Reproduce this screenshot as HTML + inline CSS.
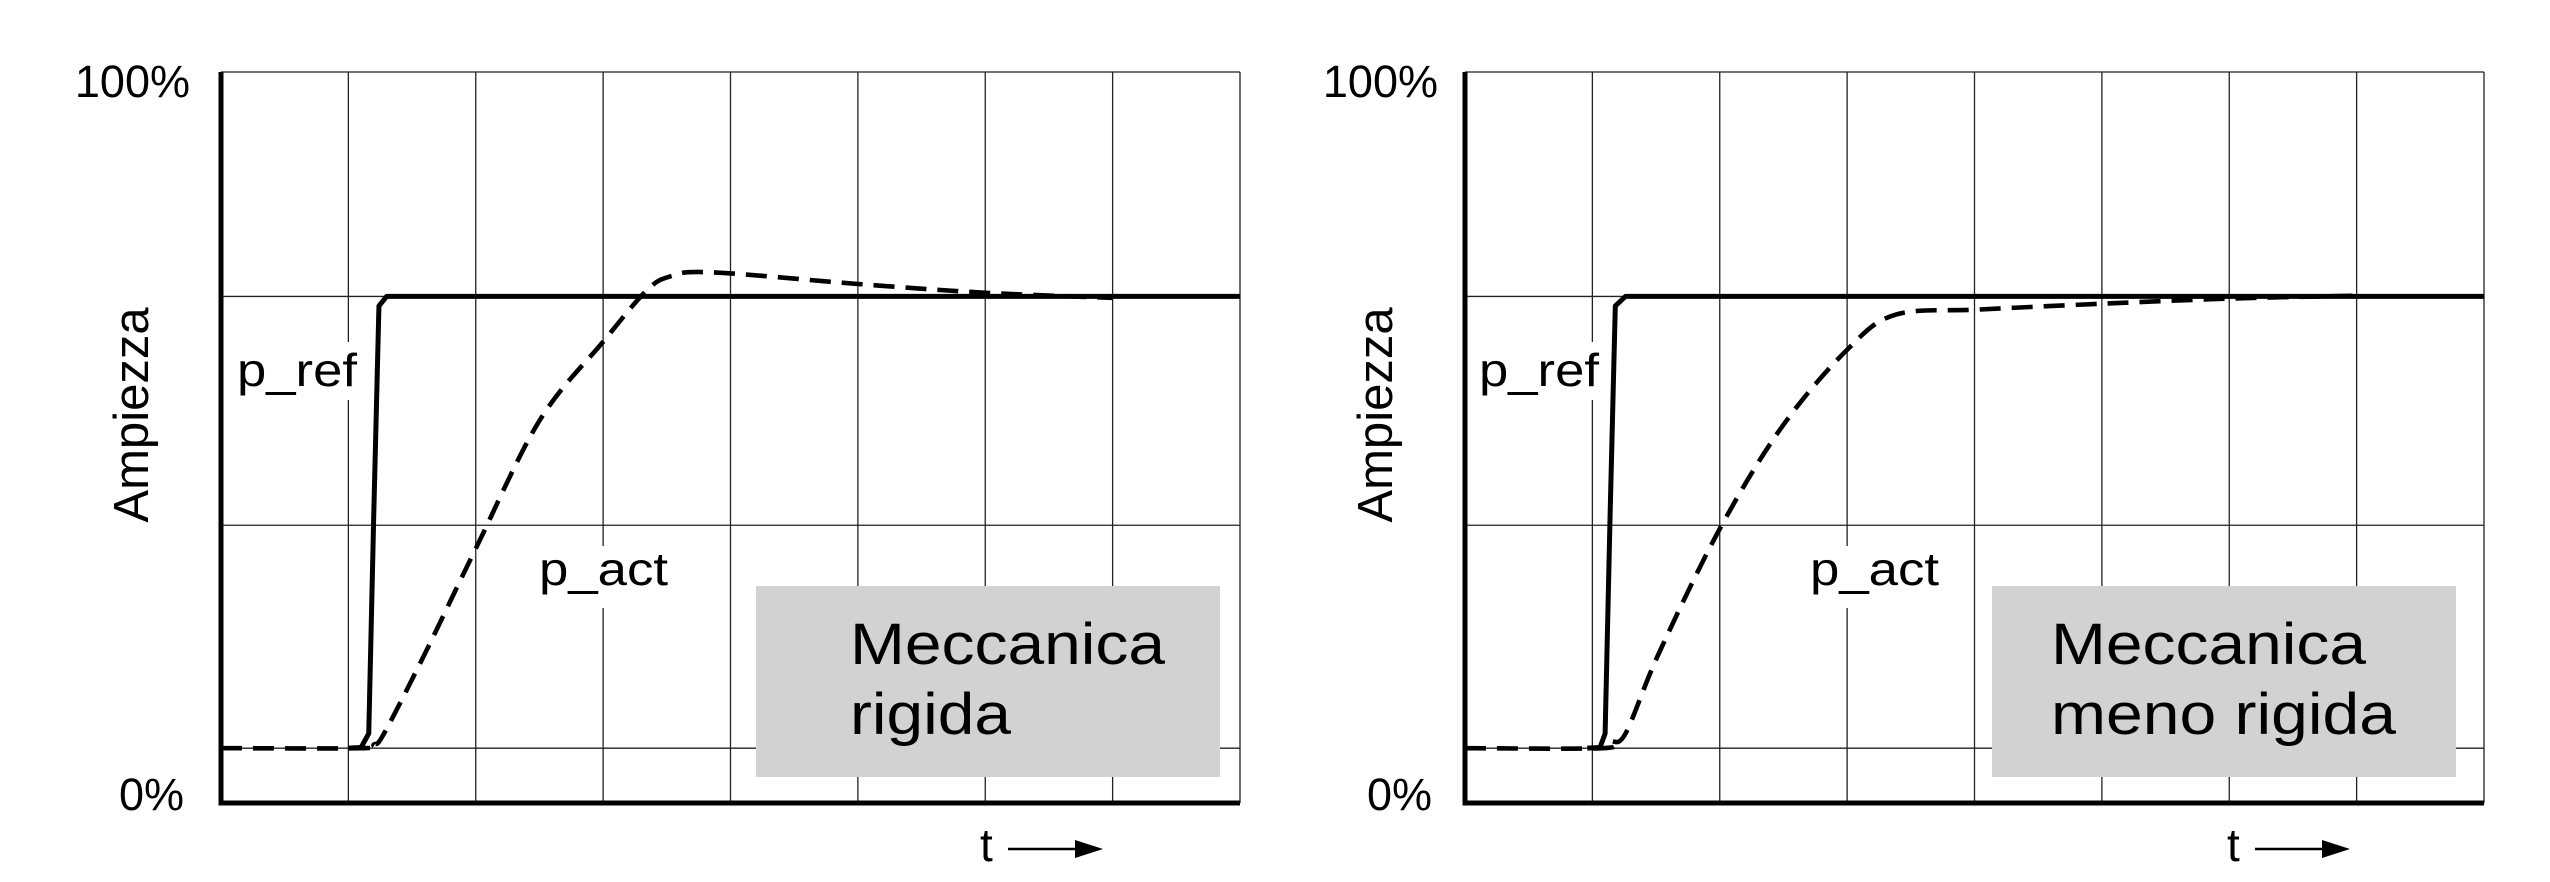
<!DOCTYPE html>
<html><head><meta charset="utf-8"><style>
html,body{margin:0;padding:0;background:#fff;}
svg{display:block;font-family:"Liberation Sans",Arial,sans-serif;}
</style></head><body>
<svg id="chart" width="2550" height="882" viewBox="0 0 2550 882" xmlns="http://www.w3.org/2000/svg">
<rect width="2550" height="882" fill="#fff"/>
<g id="panelL"></g>
<g id="panelR"></g>
</svg>
<script>
// Data (x in grid columns 0..8, y in % of full scale)
const refXL = [1.0, 1.1, 1.16, 1.2, 1.24, 1.3, 8];
const refYL = [7.5, 7.6, 9.5, 40, 68, 69.3, 69.3];
const actXL = [0, 1.12, 1.2, 1.28, 1.6, 2.0, 2.5, 3.0, 3.33, 3.52, 3.85, 5.0, 6.0, 7.0];
const actYL = [7.5, 7.5, 8, 9.5, 20.4, 34.8, 52.3, 63.1, 69.9, 72, 72.6, 71, 69.8, 69.1];
const refXR = [0.96, 1.06, 1.1, 1.14, 1.18, 1.26, 8];
const refYR = [7.5, 7.6, 9.5, 40, 68, 69.3, 69.3];
const actXR = [0, 1.08, 1.14, 1.26, 1.52, 2.0, 2.49, 3.0, 3.38, 4.03, 5.0, 6.0, 7.0];
const actYR = [7.5, 7.5, 8.4, 9.5, 20.4, 37.5, 51.5, 62, 66.8, 67.5, 68.3, 69.0, 69.4];
const gridYLevels = [7.5, 38.0, 69.3, 100];
const yTickLabels = ["0%", "100%"];

const NS = "http://www.w3.org/2000/svg";
function mk(parent, tag, attrs, text) {
  const e = document.createElementNS(NS, tag);
  for (const k in attrs) e.setAttribute(k, attrs[k]);
  if (text !== undefined) e.textContent = text;
  parent.appendChild(e);
  return e;
}
function smoothPath(pts) {
  let d = "M" + pts[0][0] + "," + pts[0][1];
  for (let i = 0; i < pts.length - 1; i++) {
    const p0 = pts[Math.max(0, i - 1)], p1 = pts[i], p2 = pts[i + 1], p3 = pts[Math.min(pts.length - 1, i + 2)];
    const c1x = p1[0] + (p2[0] - p0[0]) / 6, c1y = p1[1] + (p2[1] - p0[1]) / 6;
    const c2x = p2[0] - (p3[0] - p1[0]) / 6, c2y = p2[1] - (p3[1] - p1[1]) / 6;
    d += " C" + c1x + "," + c1y + " " + c2x + "," + c2y + " " + p2[0] + "," + p2[1];
  }
  return d;
}

function panel(g, o) {
  const x0 = o.left, W = 1019, top = 72, bot = 803;
  const sx = v => x0 + v * W / 8;
  const sy = v => bot - v * (bot - top) / 100;
  for (let i = 1; i <= 8; i++) {
    const l = mk(g, "line", {x1: sx(i), x2: sx(i), y1: top, y2: bot, stroke: "#222", "stroke-width": 1.3});
    
    
  }
  gridYLevels.forEach(v => {
    const l = mk(g, "line", {x1: x0, x2: x0 + W, y1: sy(v), y2: sy(v), stroke: "#222", "stroke-width": 1.3});
    
    
  });
  const b1 = mk(g, "rect", {x: o.prefX - 4, y: 342, width: 130, height: 58, fill: "#fff"});
  
  
  const b2 = mk(g, "rect", {x: o.pactX - 4, y: 546, width: 138, height: 62, fill: "#fff"});
  
  
  const box = mk(g, "rect", {x: o.boxX, y: 586, width: 464, height: 191, fill: "#d1d2d4"});
  
  
  const ay = mk(g, "line", {x1: x0, x2: x0, y1: top, y2: bot + 2.5, stroke: "#000", "stroke-width": 5});
  
  
  const ax = mk(g, "line", {x1: x0 - 2.5, x2: x0 + W, y1: bot, y2: bot, stroke: "#000", "stroke-width": 5});
  
  
  const refPts = o.refX.map((v, i) => sx(v) + "," + sy(o.refY[i])).join(" ");
  const ref = mk(g, "polyline", {points: refPts, fill: "none", stroke: "#000", "stroke-width": 5, "stroke-linejoin": "round"});
  
  
  const actPts = o.actX.map((v, i) => [sx(v), sy(o.actY[i])]);
  const act = mk(g, "path", {d: smoothPath(actPts), fill: "none", stroke: "#000", "stroke-width": 4.6, "stroke-dasharray": "21 11"});
  
  
  const t100 = mk(g, "text", {x: o.tickRight, y: 97, "font-size": 45, "text-anchor": "end"}, yTickLabels[1]);
  
  
  const t0 = mk(g, "text", {x: o.tickRight - 6, y: 810, "font-size": 45, "text-anchor": "end"}, yTickLabels[0]);
  
  
  const yt = mk(g, "text", {x: 0, y: 0, "font-size": 49, "text-anchor": "middle", transform: "translate(" + (o.left - 73) + ",415) rotate(-90)"}, "Ampiezza");
  
  
  const pr = mk(g, "text", {x: o.prefX, y: 386, "font-size": 46, textLength: 120, lengthAdjust: "spacingAndGlyphs"}, "p_ref");
  
  
  const pa = mk(g, "text", {x: o.pactX, y: 585, "font-size": 46, textLength: 129, lengthAdjust: "spacingAndGlyphs"}, "p_act");
  
  
  const m1 = mk(g, "text", {x: o.boxTextX, y: 664, "font-size": 58, textLength: 315, lengthAdjust: "spacingAndGlyphs"}, "Meccanica");
  
  
  const m2 = mk(g, "text", {x: o.boxTextX, y: 734, "font-size": 58, textLength: o.line2W, lengthAdjust: "spacingAndGlyphs"}, o.line2);
  
  
  const tt = mk(g, "text", {x: o.tX, y: 861, "font-size": 46}, "t");
  
  
  const al = mk(g, "line", {x1: o.tX + 28, x2: o.tX + 105, y1: 849, y2: 849, stroke: "#000", "stroke-width": 2.5});
  
  
  const ah = mk(g, "polygon", {points: (o.tX + 95) + ",840 " + (o.tX + 123) + ",849 " + (o.tX + 95) + ",858", fill: "#000"});
  
  
}

panel(document.getElementById("panelL"), {left: 221, refX: refXL, refY: refYL, actX: actXL, actY: actYL,
  tickRight: 190, prefX: 237, pactX: 539, boxX: 756, boxTextX: 850, line2: "rigida", line2W: 161, tX: 980});
panel(document.getElementById("panelR"), {left: 1465, refX: refXR, refY: refYR, actX: actXR, actY: actYR,
  tickRight: 1438, prefX: 1479, pactX: 1810, boxX: 1992, boxTextX: 2051, line2: "meno rigida", line2W: 345, tX: 2227});
</script>
</body></html>
